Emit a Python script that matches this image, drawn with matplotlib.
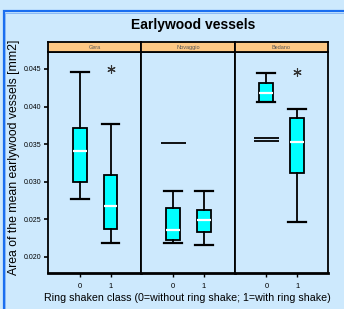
import numpy as np
import matplotlib
matplotlib.use('Agg')
import matplotlib.pyplot as plt
from matplotlib.patches import Rectangle

plt.rcParams['font.family'] = ['Liberation Sans', 'DejaVu Sans']

# data
sites = ['Gera', 'Novaggio', 'Bedano']
classes = ['0', '1']
whislo = [[0.02775, 0.0218], [0.0218, 0.0216], [0.0406, 0.0246]]
q1 = [[0.0299, 0.0237], [0.0223, 0.0233], [0.0406, 0.0311]]
med = [[0.0341, 0.0267], [0.0236, 0.0249], [0.0418, 0.0353]]
q3 = [[0.0372, 0.0309], [0.0265, 0.0262], [0.0431, 0.0385]]
whishi = [[0.0446, 0.0377], [0.0287, 0.0287], [0.0445, 0.0397]]
outliers = [[[], []], [[0.0351], []], [[0.0358, 0.0354], []]]
extremes = [[[], [0.0450]], [[], []], [[], [0.0446]]]

yticks = [0.020, 0.025, 0.030, 0.035, 0.040, 0.045]
bg = '#cde9fd'

W, H = 344, 309
fig = plt.figure(figsize=(W / 100, H / 100), dpi=100)
fig.patch.set_facecolor(bg)

# blue frame
fig.add_artist(Rectangle((3.5 / W, -0.1), 1.0, (H - 11.5) / H + 0.1, transform=fig.transFigure,
                         fill=False, edgecolor='#1a6ef0', lw=1.6))
fig.add_artist(Rectangle((5 / W, -0.1), 1.0, (H - 13) / H + 0.1, transform=fig.transFigure,
                         fill=False, edgecolor='#7fb2f5', lw=0.6))

left, pw = 48, 93.3
top, bot = 52, 273
for i, site in enumerate(sites):
    x0 = left + i * pw
    ax = fig.add_axes([x0 / W, (H - bot) / H, pw / W, (bot - top) / H])
    ax.set_facecolor(bg)
    stats = []
    for j in range(2):
        stats.append(dict(med=med[i][j], q1=q1[i][j], q3=q3[i][j],
                          whislo=whislo[i][j], whishi=whishi[i][j],
                          fliers=outliers[i][j], label=classes[j]))
    ax.bxp(stats, positions=[0, 1], widths=0.45, patch_artist=True,
           boxprops=dict(facecolor='#00ffff', edgecolor='black', lw=1.3),
           medianprops=dict(color='white', lw=1.6),
           whiskerprops=dict(color='black', lw=1.3),
           capprops=dict(color='black', lw=1.6),
           capwidths=0.58,
           flierprops=dict(marker='_', markersize=18, markeredgewidth=1.3,
                           markeredgecolor='black'))
    for j in range(2):
        if extremes[i][j]:
            ax.plot([j] * len(extremes[i][j]), extremes[i][j], ls='none',
                    marker=(6, 2, 0), markersize=6, markeredgewidth=0.8, color='#333333')
    ax.set_xlim(-1.03, 2.0)
    ax.set_ylim(0.01785, 0.04726)
    ax.set_xticks([0, 1])
    ax.set_xticklabels(classes, fontsize=5.5)
    ax.tick_params(axis='x', length=3, width=1, pad=4)
    for s in ax.spines.values():
        s.set_linewidth(1.3)
    ax.spines['bottom'].set_linewidth(2)
    if i == 0:
        ax.set_yticks(yticks)
        ax.set_yticklabels(['%.3f' % v for v in yticks], fontsize=5)
        ax.tick_params(axis='y', length=3, width=1.2, pad=2)
    else:
        ax.set_yticks([])
    # strip
    sax = fig.add_axes([x0 / W, (H - top) / H, pw / W, 10 / H])
    sax.set_facecolor('#fdc884')
    sax.set_xticks([])
    sax.set_yticks([])
    for s in sax.spines.values():
        s.set_linewidth(1.3)
    sax.text(0.5, 0.45, site, ha='center', va='center', fontsize=4, color='#555555',
             transform=sax.transAxes)

fig.text(193 / W, 1 - 25 / H, 'Earlywood vessels', ha='center', va='center',
         fontsize=10, fontweight='bold')
fig.text(14 / W, 1 - 157 / H, 'Area of the mean earlywood vessels [mm2]', ha='center',
         va='center', rotation=90, fontsize=8.8)
fig.text(187 / W, 1 - 298 / H, 'Ring shaken class (0=without ring shake; 1=with ring shake)',
         ha='center', va='center', fontsize=7.7)

fig.savefig('out.png', dpi=100, facecolor=bg)
